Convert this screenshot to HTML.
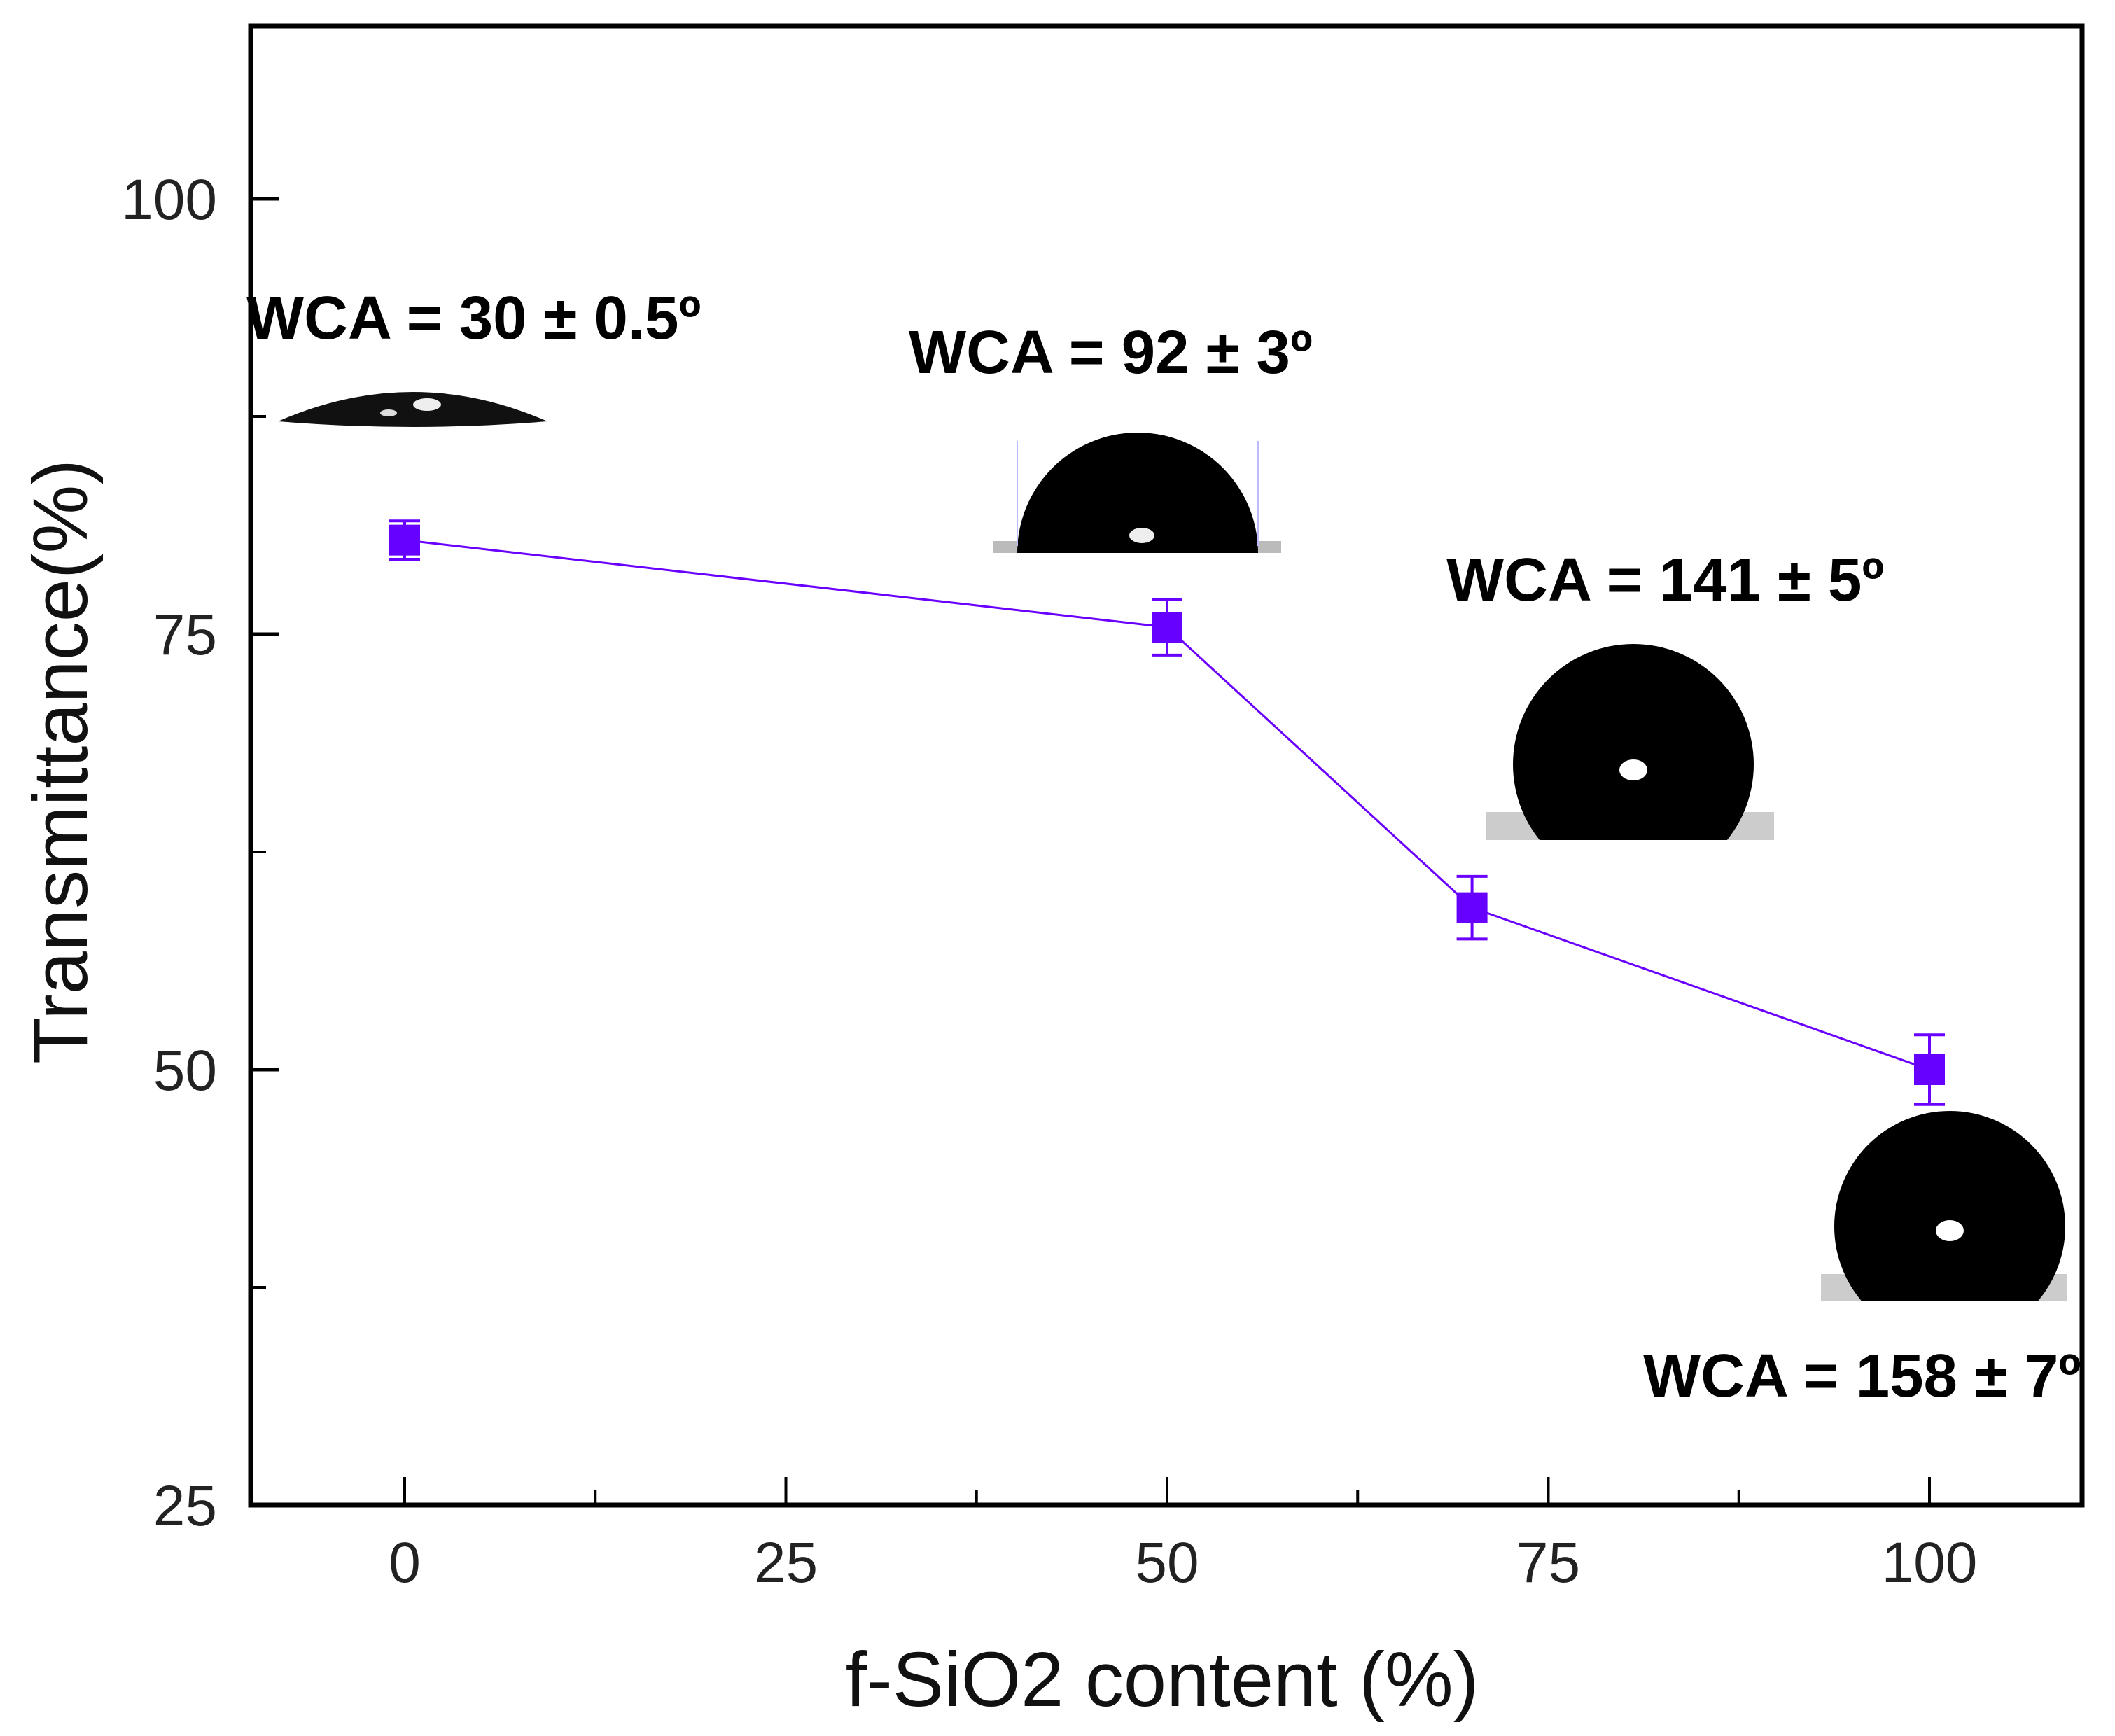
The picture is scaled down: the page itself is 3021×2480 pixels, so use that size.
<!DOCTYPE html>
<html><head><meta charset="utf-8"><style>
html,body{margin:0;padding:0;background:#fff;}
svg{display:block;font-family:"Liberation Sans",Arial,sans-serif;}
</style></head><body>
<svg id="chart" width="3021" height="2480" viewBox="0 0 3021 2480" xmlns="http://www.w3.org/2000/svg">
<g id="drops">
 <g>
  <path d="M397,602 Q590,518 782,602 Q590,618 397,602 Z" fill="#111"/>
  <ellipse cx="610" cy="578" rx="20" ry="9" fill="#eee"/>
  <ellipse cx="555" cy="590" rx="12" ry="5" fill="#ddd"/>
 </g>
 <g>
  <rect x="1419" y="773" width="411" height="17" fill="#bbb"/>
  <path d="M1453,790 A172,172 0 0 1 1797,790 Z" fill="#000"/>
  <ellipse cx="1631" cy="765" rx="18" ry="11" fill="#eee"/>
  <line x1="1453" y1="630" x2="1453" y2="780" stroke="#bbf" stroke-width="2"/>
  <line x1="1797" y1="630" x2="1797" y2="780" stroke="#bbf" stroke-width="2"/>
 </g>
 <defs>
  <clipPath id="c3"><rect x="2100" y="850" width="500" height="350"/></clipPath>
  <clipPath id="c4"><rect x="2580" y="1500" width="420" height="358"/></clipPath>
 </defs>
 <g>
  <rect x="2123" y="1160" width="411" height="40" fill="#ccc"/>
  <circle cx="2333" cy="1092" r="172" fill="#000" clip-path="url(#c3)"/>
  <ellipse cx="2333" cy="1100" rx="20" ry="15" fill="#fff"/>
 </g>
 <g>
  <rect x="2601" y="1820" width="352" height="38" fill="#ccc"/>
  <circle cx="2785" cy="1752" r="165" fill="#000" clip-path="url(#c4)"/>
  <ellipse cx="2785" cy="1758" rx="20" ry="15" fill="#fff"/>
 </g>
</g>
<g id="plot"></g>
<g font-weight="bold" font-size="87" fill="#000">
 <text x="352" y="484">WCA = 30 ± 0.5º</text>
 <text x="1298" y="533">WCA = 92 ± 3º</text>
 <text x="2066" y="858">WCA = 141 ± 5º</text>
 <text x="2347" y="1995">WCA = 158 ± 7º</text>
</g>
<text x="1660" y="2437" text-anchor="middle" font-size="110" fill="#111">f-SiO2 content (%)</text>
<text transform="translate(124,1088) rotate(-90)" text-anchor="middle" font-size="110" fill="#111">Transmittance(%)</text>
</svg>
<script>
const xValues = [0, 50, 70, 100];
const yValues = [80.4, 75.4, 59.3, 50.0];
const yErrors = [1.1, 1.6, 1.8, 2.0];
const xTicks = [0, 25, 50, 75, 100];
const xTickLabels = ["0", "25", "50", "75", "100"];
const yTicks = [25, 50, 75, 100];
const yTickLabels = ["25", "50", "75", "100"];
const xMinor = [12.5, 37.5, 62.5, 87.5];
const yMinor = [37.5, 62.5, 87.5];

const L=358, R=2974, T=37, B=2150;
function sx(v){return 578 + v*(2756-578)/100;}
function sy(v){return B - (v-25)*(2150-284)/75;}
const NS="http://www.w3.org/2000/svg";
const g=document.getElementById('plot');
function mk(tag,attrs,parent){const e=document.createElementNS(NS,tag);for(const k in attrs)e.setAttribute(k,attrs[k]);(parent||g).appendChild(e);return e;}

const pts=xValues.map((x,i)=>sx(x)+','+sy(yValues[i])).join(' ');
const line=mk('polyline',{points:pts,fill:'none',stroke:'#6a00ff','stroke-width':3});



xValues.forEach((x,i)=>{
  const cx=sx(x), cy=sy(yValues[i]);
  const eg=mk('g',{stroke:'#6a00ff','stroke-width':4});
  
  
  const yt=sy(yValues[i]+yErrors[i]), yb=sy(yValues[i]-yErrors[i]);
  mk('line',{x1:cx,y1:yt,x2:cx,y2:yb},eg);
  mk('line',{x1:cx-22,y1:yt,x2:cx+22,y2:yt},eg);
  mk('line',{x1:cx-22,y1:yb,x2:cx+22,y2:yb},eg);
  const m=mk('rect',{x:cx-22,y:cy-22,width:44,height:44,fill:'#6600ff'});
  
  
});

const fr=mk('rect',{x:L,y:T,width:R-L,height:B-T,fill:'none',stroke:'#000','stroke-width':7});



xTicks.forEach((v,i)=>{
  const t=mk('line',{x1:sx(v),y1:B,x2:sx(v),y2:B-40,stroke:'#000','stroke-width':4});
  
  
  const tx=mk('text',{x:sx(v),y:B+110,'text-anchor':'middle','font-size':82,fill:'#222'});
  tx.textContent=xTickLabels[i];
  
  
});
xMinor.forEach(v=>{
  const t=mk('line',{x1:sx(v),y1:B,x2:sx(v),y2:B-22,stroke:'#000','stroke-width':4});
  
  
});
yTicks.forEach((v,i)=>{
  const t=mk('line',{x1:L,y1:sy(v),x2:L+40,y2:sy(v),stroke:'#000','stroke-width':5});
  
  
  const tx=mk('text',{x:L-48,y:sy(v)+29,'text-anchor':'end','font-size':82,fill:'#222'});
  tx.textContent=yTickLabels[i];
  
  
});
yMinor.forEach(v=>{
  const t=mk('line',{x1:L,y1:sy(v),x2:L+22,y2:sy(v),stroke:'#000','stroke-width':4});
  
  
});
</script>
</body></html>
